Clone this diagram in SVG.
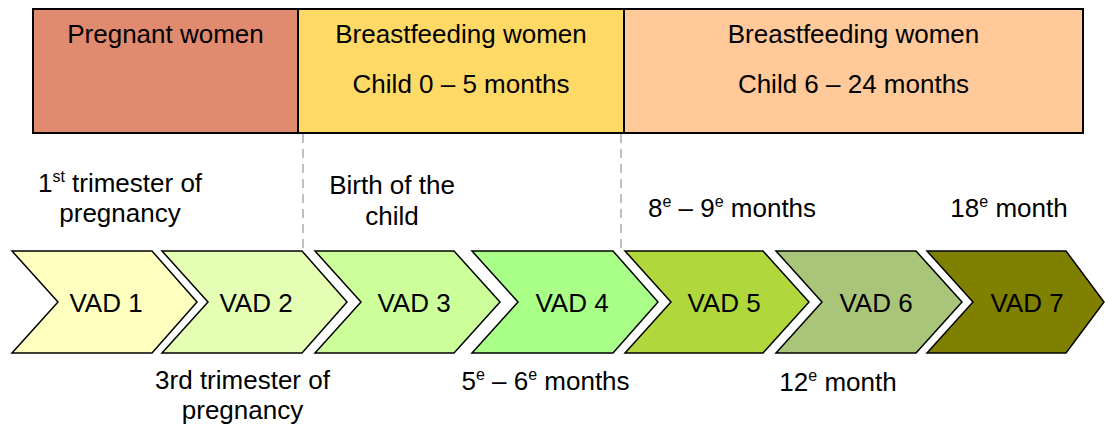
<svg xmlns="http://www.w3.org/2000/svg" width="1105" height="430" viewBox="0 0 1105 430">
<style>
text{font-family:"Liberation Sans",Arial,sans-serif;font-size:26px;fill:#000}
.c{text-anchor:middle}
.box{stroke:#000;stroke-width:2}
.chev{stroke:#000;stroke-width:1.5;stroke-linejoin:miter}
.dash{stroke:#BFBFBF;stroke-width:2;stroke-dasharray:9 6;fill:none}
.sup{font-size:16px}
</style>
<rect width="1105" height="430" fill="#fff"/>
<g id="phase-pregnant">
<rect class="box" x="33" y="9" width="265" height="124" fill="#E08A70"/>
<text class="c" x="165.5" y="43">Pregnant women</text>
</g>
<g id="phase-bf-0-5">
<rect class="box" x="298" y="9" width="326" height="124" fill="#FFD966"/>
<text class="c" x="461" y="43">Breastfeeding women</text>
<text class="c" x="461" y="93">Child 0 – 5 months</text>
</g>
<g id="phase-bf-6-24">
<rect class="box" x="624" y="9" width="459" height="124" fill="#FFC999"/>
<text class="c" x="853.5" y="43">Breastfeeding women</text>
<text class="c" x="853.5" y="93">Child 6 – 24 months</text>
</g>
<g id="connectors">
<line class="dash" x1="303" y1="134" x2="303" y2="253"/>
<line class="dash" x1="621" y1="134" x2="621" y2="253"/>
</g>
<g id="vad1">
<polygon class="chev" fill="#FFFFC0" points="12,251 152,251 197,302 152,353 12,353 58,302"/>
<text class="c" x="106" y="312">VAD 1</text>
</g>
<g id="vad2">
<polygon class="chev" fill="#E4FFB4" points="162,251 302,251 347,302 302,353 162,353 208,302"/>
<text class="c" x="256" y="312">VAD 2</text>
</g>
<g id="vad3">
<polygon class="chev" fill="#CCFF99" points="315,251 454,251 500,302 454,353 315,353 361,302"/>
<text class="c" x="414" y="312">VAD 3</text>
</g>
<g id="vad4">
<polygon class="chev" fill="#AAFF88" points="472,251 613,251 658,302 613,353 472,353 518,302"/>
<text class="c" x="572" y="312">VAD 4</text>
</g>
<g id="vad5">
<polygon class="chev" fill="#B0D83C" points="625,251 763,251 809,302 763,353 625,353 671,302"/>
<text class="c" x="724" y="312">VAD 5</text>
</g>
<g id="vad6">
<polygon class="chev" fill="#A9C57A" points="776,251 916,251 962,302 916,353 776,353 822,302"/>
<text class="c" x="876" y="312">VAD 6</text>
</g>
<g id="vad7">
<polygon class="chev" fill="#808000" points="927,251 1066,251 1104,302 1066,353 927,353 973,302"/>
<text class="c" x="1027" y="312">VAD 7</text>
</g>
<g id="labels-top">
<text class="c" x="120" y="192">1<tspan class="sup" dy="-10">st</tspan><tspan dy="10"> trimester of</tspan></text>
<text class="c" x="120" y="222">pregnancy</text>
<text class="c" x="392" y="194">Birth of the</text>
<text class="c" x="392" y="225">child</text>
<text class="c" x="732" y="217">8<tspan class="sup" dy="-10">e</tspan><tspan dy="10"> – 9</tspan><tspan class="sup" dy="-10">e</tspan><tspan dy="10"> months</tspan></text>
<text class="c" x="1009" y="217">18<tspan class="sup" dy="-10">e</tspan><tspan dy="10"> month</tspan></text>
</g>
<g id="labels-bottom">
<text class="c" x="242.5" y="389">3rd trimester of</text>
<text class="c" x="242.5" y="419">pregnancy</text>
<text class="c" x="545.5" y="390">5<tspan class="sup" dy="-10">e</tspan><tspan dy="10"> – 6</tspan><tspan class="sup" dy="-10">e</tspan><tspan dy="10"> months</tspan></text>
<text class="c" x="838" y="391">12<tspan class="sup" dy="-10">e</tspan><tspan dy="10"> month</tspan></text>
</g>
</svg>
